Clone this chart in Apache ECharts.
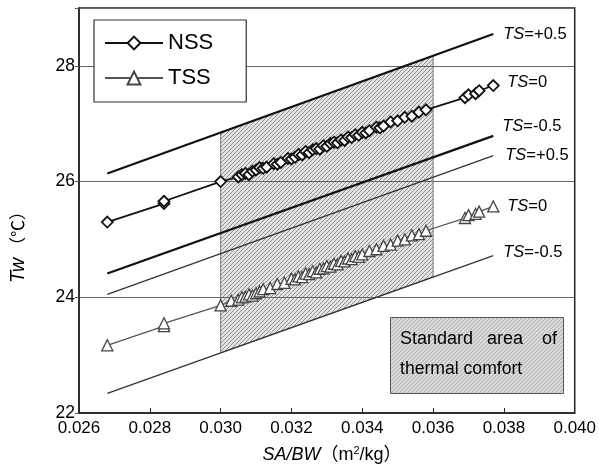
<!DOCTYPE html>
<html>
<head>
<meta charset="utf-8">
<script src="https://cdn.jsdelivr.net/npm/echarts@6/dist/echarts.min.js"></script>
<style>html,body{margin:0;padding:0;background:#fff;}#c{width:599px;height:467px;}</style>
</head>
<body>
<div id="c"></div>
<script>
// ---- data ----
var xTicks = [0.026, 0.028, 0.030, 0.032, 0.034, 0.036, 0.038, 0.040];
var yTicks = [22, 24, 26, 28];

var nssX = [0.0268,0.0284,0.0284,0.0300,0.0305,0.0306,0.0307,0.0308,0.0309,0.0310,0.0311,0.0312,0.0313,0.0315,0.0316,0.0317,0.0319,0.0320,0.0321,0.0322,0.0323,0.0324,0.0325,0.0326,0.0327,0.0328,0.0329,0.0330,0.0331,0.0332,0.0333,0.0334,0.0335,0.0336,0.0337,0.0338,0.0339,0.0340,0.0341,0.0342,0.0344,0.0345,0.0346,0.0348,0.0350,0.0352,0.0354,0.0356,0.0358,0.0369,0.0370,0.0372,0.0373,0.0377];
var nssY = [25.30,25.62,25.66,26.00,26.08,26.12,26.14,26.12,26.18,26.20,26.24,26.23,26.25,26.31,26.30,26.33,26.40,26.39,26.42,26.47,26.46,26.52,26.50,26.55,26.57,26.56,26.62,26.61,26.66,26.68,26.67,26.72,26.71,26.77,26.76,26.81,26.80,26.85,26.84,26.88,26.94,26.93,26.96,27.03,27.05,27.11,27.13,27.20,27.24,27.45,27.50,27.52,27.57,27.66];

var tssX = [0.0268,0.0284,0.0284,0.0300,0.0303,0.0305,0.0306,0.0307,0.0308,0.0309,0.0310,0.0311,0.0312,0.0314,0.0316,0.0318,0.0320,0.0321,0.0322,0.0323,0.0324,0.0325,0.0326,0.0327,0.0328,0.0329,0.0330,0.0331,0.0332,0.0333,0.0334,0.0335,0.0336,0.0337,0.0338,0.0339,0.0340,0.0342,0.0344,0.0346,0.0348,0.0350,0.0352,0.0354,0.0356,0.0358,0.0369,0.0370,0.0372,0.0373,0.0377];
var tssY = [23.17,23.50,23.55,23.86,23.94,23.96,24.00,24.01,24.05,24.03,24.07,24.10,24.14,24.16,24.23,24.25,24.32,24.31,24.36,24.35,24.41,24.40,24.45,24.43,24.49,24.50,24.54,24.53,24.58,24.57,24.63,24.62,24.67,24.66,24.71,24.70,24.74,24.80,24.83,24.89,24.91,24.98,25.00,25.07,25.09,25.15,25.37,25.42,25.44,25.48,25.57];

// TS reference lines: [start, end]
var nssPlus  = [[0.0268, 26.14], [0.0377, 28.55]];
var nssMinus = [[0.0268, 24.41], [0.0377, 26.79]];
var tssPlus  = [[0.0268, 24.05], [0.0377, 26.45]];
var tssMinus = [[0.0268, 22.34], [0.0377, 24.72]];

// standard area of thermal comfort (corners)
var comfortArea = [[0.030, 23.04], [0.036, 24.35], [0.036, 28.17], [0.030, 26.85]];

// ---- helpers ----
function zip(xs, ys){ return xs.map(function(x,i){ return [x, ys[i]]; }); }
function makeHatch(){
  var s = 4;
  var c = document.createElement('canvas'); c.width = s; c.height = s;
  var g = c.getContext('2d');
  g.fillStyle = '#e4e4e4'; g.fillRect(0,0,s,s);
  g.strokeStyle = '#909090'; g.lineWidth = 1;
  g.beginPath();
  g.moveTo(0, s); g.lineTo(s, 0);
  g.moveTo(-1, 1); g.lineTo(1, -1);
  g.moveTo(s-1, s+1); g.lineTo(s+1, s-1);
  g.stroke();
  return c;
}
var hatch = makeHatch();
var FONT = "'Liberation Sans', Arial, sans-serif";
var TXT = '#000';
var tsRich = {
  i: {fontStyle: 'italic', fontSize: 16.5, fontFamily: FONT, color: TXT},
  n: {fontSize: 16.5, fontFamily: FONT, color: TXT}
};
function tsLabel(txt, dist, off){
  return {show: true, formatter: '{i|TS}{n|' + txt + '}', rich: tsRich, distance: dist, offset: off || [0,0]};
}

var chart = echarts.init(document.getElementById('c'), null, {renderer: 'canvas'});
var option = {
  animation: false,
  backgroundColor: '#fff',
  grid: {left: 79, right: 23, top: 8, bottom: 54, show: true, borderColor: '#222', borderWidth: 1.5, backgroundColor: 'transparent'},
  xAxis: {
    type: 'value', min: xTicks[0], max: xTicks[xTicks.length-1], interval: 0.002,
    axisLine: {lineStyle: {color: '#222', width: 1.5}},
    axisTick: {inside: true, length: 5, lineStyle: {color: '#222'}},
    axisLabel: {margin: 7, fontSize: 17, fontFamily: FONT, color: TXT, formatter: function(v){ return v.toFixed(3); }},
    splitLine: {show: false}
  },
  yAxis: {
    type: 'value', min: yTicks[0], max: 29, interval: 2,
    axisLine: {show: true, lineStyle: {color: '#222', width: 1.5}},
    axisTick: {show: true, length: 4, lineStyle: {color: '#555'}},
    axisLabel: {margin: 4, fontSize: 17.5, fontFamily: FONT, color: TXT, formatter: function(v){ return yTicks.indexOf(v) >= 0 ? String(v) : ''; }},
    splitLine: {show: true, lineStyle: {color: '#666', width: 1}}
  },
  legend: {
    data: ['NSS', 'TSS'], orient: 'vertical', left: 94, top: 20,
    padding: [12, 33, 13, 10], itemGap: 13, itemWidth: 58, itemHeight: 16,
    backgroundColor: '#fff', borderColor: '#333', borderWidth: 1.2, borderRadius: 0,
    textStyle: {fontSize: 22, fontFamily: FONT, color: TXT}
  },
  graphic: [
    {type: 'rect', left: 390, top: 317, shape: {width: 173, height: 76}, style: {fill: {image: hatch, repeat: 'repeat'}, stroke: '#555', lineWidth: 1}, z: 10},
    {type: 'text', x: 400, y: 339, style: {text: 'Standard', font: '18px ' + FONT, fill: TXT, textAlign: 'left', textVerticalAlign: 'middle'}, z: 11},
    {type: 'text', x: 487, y: 339, style: {text: 'area', font: '18px ' + FONT, fill: TXT, textAlign: 'left', textVerticalAlign: 'middle'}, z: 11},
    {type: 'text', x: 557, y: 339, style: {text: 'of', font: '18px ' + FONT, fill: TXT, textAlign: 'right', textVerticalAlign: 'middle'}, z: 11},
    {type: 'text', x: 400, y: 369, style: {text: 'thermal comfort', font: '17.6px ' + FONT, fill: TXT, textAlign: 'left', textVerticalAlign: 'middle'}, z: 11},
    {type: 'text', x: 332, y: 455, style: {
      text: '{i|SA/BW}{n|（m}{s|2}{n|/kg）}', textAlign: 'center', textVerticalAlign: 'middle',
      rich: {
        i: {fontStyle: 'italic', fontSize: 18, fontFamily: FONT, fill: TXT},
        n: {fontSize: 18, fontFamily: "'Liberation Sans', 'Noto Sans CJK JP', sans-serif", fill: TXT},
        s: {fontSize: 11, fontFamily: FONT, fill: TXT, verticalAlign: 'top', padding: [0,0,8,0]}
      }}, z: 11},
    {type: 'text', x: 18, y: 243, rotation: Math.PI/2, style: {
      text: '{i|Tw}{n| （℃）}', textAlign: 'center', textVerticalAlign: 'middle',
      rich: {
        i: {fontStyle: 'italic', fontSize: 20, fontFamily: FONT, fill: TXT},
        n: {fontSize: 17, fontFamily: "'Noto Sans CJK JP', sans-serif", fill: TXT}
      }}, z: 11}
  ],
  series: [
    {
      type: 'custom', name: 'area', z: -1, silent: true,
      data: [[0.033, 25.5]],
      renderItem: function(params, api){
        var pts = comfortArea.map(function(p){ return api.coord(p); });
        return {type: 'polygon', shape: {points: pts}, style: {fill: {image: hatch, repeat: 'repeat'}, stroke: '#777', lineWidth: 1}};
      }
    },
    {type: 'line', name: 'nssPlus', data: nssPlus, symbol: 'none', silent: true, lineStyle: {color: '#111', width: 2.2},
      endLabel: tsLabel('=+0.5', 10)},
    {type: 'line', name: 'nssMinus', data: nssMinus, symbol: 'none', silent: true, lineStyle: {color: '#111', width: 2.2},
      endLabel: tsLabel('=-0.5', 9, [0, -9])},
    {type: 'line', name: 'tssPlus', data: tssPlus, symbol: 'none', silent: true, lineStyle: {color: '#333', width: 1.3},
      endLabel: tsLabel('=+0.5', 12)},
    {type: 'line', name: 'tssMinus', data: tssMinus, symbol: 'none', silent: true, lineStyle: {color: '#333', width: 1.3},
      endLabel: tsLabel('=-0.5', 10, [0, -3])},
    {type: 'line', name: 'NSS', data: zip(nssX, nssY), symbol: 'diamond', symbolSize: 11, showAllSymbol: true,
      lineStyle: {color: '#111', width: 1.8},
      itemStyle: {color: '#fff', borderColor: '#111', borderWidth: 1.8},
      endLabel: tsLabel('=0', 14, [0, -3])},
    {type: 'line', name: 'TSS', data: zip(tssX, tssY), symbol: 'triangle', symbolSize: 11, showAllSymbol: true,
      lineStyle: {color: '#555', width: 1.3},
      itemStyle: {color: '#fff', borderColor: '#444', borderWidth: 1.3},
      endLabel: tsLabel('=0', 14)}
  ]
};
chart.setOption(option);
</script>
</body>
</html>
